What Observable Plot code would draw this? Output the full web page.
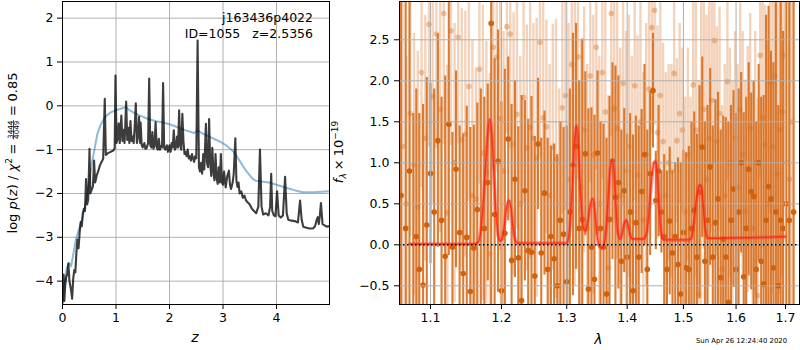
<!DOCTYPE html>
<html><head><meta charset="utf-8">
<script src="https://cdn.jsdelivr.net/npm/d3@7"></script>
<script src="https://cdn.jsdelivr.net/npm/@observablehq/plot@0.6"></script>
<style>
body{margin:0;background:#fff;}
#wrap{position:relative;width:800px;height:350px;overflow:hidden;background:#fff}
#wrap svg{position:absolute;top:0}
</style></head><body><div id="wrap"></div>
<script>
// ---------- DATA ----------
// Left panel: log p(z) (dark) and smoothed curve (blue)
const zGrid = [0.00,0.02,0.035,0.05,0.07,0.09,0.11,0.13,0.16,0.18,0.20,0.22,0.24,0.26,0.28,0.30,0.32,0.34,0.36,0.38,0.40,0.42,0.44,0.46,0.48,0.505,0.52,0.55,0.57,0.59,0.61,0.64,0.67,0.70,0.73,0.76,0.79,0.81,0.85,0.90,0.95,0.975,0.99,1.01,1.03,1.05,1.07,1.10,1.12,1.14,1.16,1.19,1.21,1.23,1.25,1.27,1.29,1.31,1.33,1.35,1.37,1.39,1.41,1.43,1.45,1.46,1.48,1.50,1.53,1.55,1.57,1.60,1.62,1.64,1.66,1.68,1.70,1.72,1.74,1.76,1.78,1.80,1.82,1.84,1.86,1.88,1.90,1.92,1.95,1.97,2.00,2.02,2.04,2.06,2.08,2.10,2.12,2.14,2.16,2.18,2.20,2.22,2.24,2.26,2.28,2.30,2.32,2.34,2.36,2.38,2.40,2.42,2.44,2.46,2.48,2.50,2.525,2.55,2.57,2.59,2.61,2.63,2.65,2.68,2.70,2.72,2.74,2.76,2.78,2.80,2.82,2.84,2.86,2.88,2.90,2.92,2.94,2.96,2.98,3.00,3.02,3.05,3.08,3.11,3.13,3.15,3.18,3.20,3.23,3.25,3.27,3.29,3.31,3.34,3.37,3.40,3.43,3.46,3.50,3.54,3.58,3.62,3.66,3.69,3.72,3.75,3.80,3.85,3.88,3.90,3.92,3.95,3.98,4.01,4.04,4.08,4.12,4.16,4.19,4.22,4.28,4.34,4.40,4.44,4.47,4.50,4.56,4.62,4.68,4.72,4.75,4.77,4.79,4.81,4.83,4.86,4.90,4.95,4.99];
const logPz = [-4.50,-3.85,-4.45,-4.10,-3.90,-3.85,-3.60,-4.00,-4.20,-4.40,-3.95,-3.75,-3.80,-3.35,-3.05,-3.25,-2.90,-2.65,-2.75,-2.45,-2.35,-2.40,-1.67,-2.25,-2.15,-0.98,-2.00,-1.90,-1.82,-1.25,-1.75,-1.59,-1.48,-1.36,-1.28,-1.21,0.16,-1.12,-1.08,-1.05,-1.02,-0.97,0.69,-0.85,-0.75,-0.40,-0.85,-0.22,-0.80,-0.55,-0.85,0.10,-0.78,-0.50,-0.85,-0.35,-0.80,-0.70,-0.85,-0.45,0.06,-0.85,-0.70,-0.25,-0.85,-0.38,-0.90,-0.95,-0.85,-0.98,-0.97,-0.85,0.62,-0.90,-0.95,-0.60,-0.98,-0.90,-0.37,-0.95,-1.00,-0.75,-1.00,-0.92,-0.95,0.52,-0.95,-1.00,-0.90,-1.05,-0.90,-1.05,-0.85,-0.95,-0.56,-1.00,-0.95,-0.70,-0.95,-0.10,-0.90,-1.00,-0.18,-0.80,-1.10,-1.05,-1.15,-1.00,-1.20,-1.15,-1.25,-1.10,-1.20,-1.28,-1.15,-1.20,1.49,-1.40,-1.50,-1.30,-1.55,-1.10,-1.45,-0.41,-1.30,-1.40,-0.30,-1.30,-1.60,-0.96,-1.50,-1.70,-1.10,-1.65,-1.78,-1.40,-1.75,-1.10,-1.75,-1.80,-1.50,-1.86,-1.60,-1.48,-1.80,-1.90,-1.75,-1.55,-0.74,-1.70,-1.85,-1.75,-2.00,-1.95,-2.10,-2.05,-2.16,-2.20,-2.25,-2.35,-2.40,-2.45,-2.30,-1.00,-2.30,-2.48,-2.45,-2.50,-2.30,-1.55,-2.40,-2.50,-2.52,-1.95,-2.50,-2.55,-2.50,-1.62,-2.45,-2.60,-2.62,-2.63,-2.66,-2.16,-2.60,-2.76,-2.78,-2.80,-2.80,-2.75,-2.60,-2.54,-2.70,-2.50,-2.22,-2.70,-2.73,-2.76,-2.74];
const zSmooth = [0.00,0.04,0.08,0.12,0.16,0.20,0.25,0.30,0.37,0.42,0.46,0.50,0.55,0.60,0.65,0.70,0.75,0.80,0.90,1.00,1.10,1.18,1.25,1.35,1.46,1.60,1.75,1.84,2.00,2.15,2.30,2.46,2.53,2.60,2.77,2.95,3.08,3.20,3.33,3.43,3.55,3.61,3.75,3.86,4.00,4.18,4.35,4.49,4.70,4.99];
const logPzSmooth = [-4.45,-4.00,-3.70,-3.58,-3.66,-3.40,-3.05,-2.85,-2.58,-2.30,-2.05,-1.75,-1.30,-0.98,-0.65,-0.47,-0.35,-0.25,-0.15,-0.10,-0.06,-0.03,-0.10,-0.17,-0.23,-0.30,-0.35,-0.37,-0.42,-0.49,-0.56,-0.62,-0.56,-0.62,-0.72,-0.82,-0.92,-1.05,-1.29,-1.48,-1.66,-1.71,-1.73,-1.75,-1.80,-1.87,-1.93,-1.97,-1.97,-1.95];

// Right panel: spectrum (dark = first beam, light = second beam), model
const waveDark = [1.061,1.067,1.072,1.077,1.081,1.085,1.090,1.095,1.100,1.105,1.110,1.115,1.120,1.125,1.130,1.135,1.140,1.145,1.150,1.155,1.160,1.165,1.170,1.175,1.180,1.185,1.190,1.195,1.200,1.205,1.210,1.215,1.220,1.225,1.230,1.235,1.240,1.245,1.250,1.255,1.260,1.265,1.270,1.275,1.280,1.285,1.290,1.295,1.300,1.305,1.310,1.315,1.320,1.325,1.330,1.335,1.340,1.345,1.350,1.355,1.360,1.365,1.370,1.375,1.380,1.385,1.390,1.395,1.400,1.405,1.410,1.415,1.420,1.425,1.430,1.435,1.440,1.445,1.450,1.455,1.460,1.465,1.470,1.475,1.480,1.485,1.490,1.495,1.500,1.505,1.510,1.515,1.520,1.525,1.530,1.535,1.540,1.545,1.550,1.555,1.560,1.565,1.570,1.575,1.580,1.585,1.590,1.595,1.600,1.605,1.610,1.615,1.620,1.625,1.630,1.635,1.640,1.645,1.650,1.655,1.660,1.665,1.670,1.675,1.680,1.685,1.690,1.695,1.701,1.708,1.717];
const fluxDark = [0.6,0.2,0.9,-0.9,0.1,-0.3,-0.49,0.24,0.87,0.4,1.27,0.30,-0.14,1.47,-0.03,0.92,0.15,-0.35,0.09,-0.57,-0.04,0.43,-0.9,0.2,0.76,2.70,0.37,1.02,-0.56,0.14,1.29,-0.19,0.80,-0.16,-0.68,0.66,-0.07,-0.09,-0.38,1.23,-0.1,0.63,-0.30,0.1,-0.17,-0.5,0.30,0.13,-0.45,0.4,0.98,1.20,0.20,0.31,1.11,-0.54,-0.03,-0.42,1.12,0.2,-0.03,-0.6,0.31,1.02,0.58,0.76,-0.2,0.66,-0.15,0.4,-0.56,0.27,-0.15,0.65,1.10,-0.3,0.87,1.88,0.54,0.9,0.4,0.1,-0.3,0.29,-0.1,0.1,-0.24,-0.6,0.15,-0.28,-0.30,0.2,0.42,-0.15,0.64,1.19,-0.2,0.3,0.95,-0.15,0.27,0.56,-0.4,0.07,-0.15,-0.7,0.3,0.68,-0.3,0.4,1.00,-0.39,0.2,0.92,0.65,0.59,-0.3,1.0,-0.2,-0.48,0.3,0.71,0.56,-0.28,0.4,-0.5,0.3,0.2,0.5,0.3,0.4];
const errDark = [5,5,5,2.5,1.8,1.9,2.2,1.8,1.1,1.5,1.3,1.5,2.2,1.6,1.4,1.2,1.3,1.7,1.6,2.0,1.5,1.3,2.8,1.6,1.2,4,1.9,1.6,2.3,2.0,1.0,1.9,1.2,1.6,2.5,1.1,1.6,1.9,1.7,0.8,1.4,1.0,1.6,1.1,1.4,1.6,1.2,1.3,1.9,1.5,1.6,1.5,1.8,2.2,1.0,2.2,1.7,2.0,1.0,1.3,1.5,1.9,1.5,1.2,1.6,1.3,1.6,1.0,1.5,1.2,1.9,1.3,1.6,1.0,1.1,1.7,1.0,0.7,0.6,0.8,0.5,1.0,1.2,0.9,1.0,0.9,1.3,1.6,1.0,1.4,1.5,1.3,1.2,1.5,1.3,1.1,1.7,1.4,1.2,1.6,1.5,1.3,1.8,1.5,1.7,2.2,1.4,1.2,1.9,1.5,1.1,2.0,1.6,1.3,1.2,1.4,1.8,1.2,2.0,2.3,2.5,2.2,1.8,2.5,2.8,2.2,3.0,2.4,5,5,5];
const waveLight = [1.063,1.068,1.073,1.078,1.083,1.088,1.093,1.098,1.103,1.108,1.113,1.118,1.123,1.128,1.133,1.138,1.143,1.148,1.153,1.158,1.163,1.168,1.173,1.178,1.183,1.188,1.193,1.198,1.203,1.208,1.213,1.218,1.223,1.228,1.233,1.238,1.243,1.248,1.253,1.258,1.263,1.268,1.273,1.278,1.283,1.288,1.293,1.298,1.303,1.308,1.313,1.318,1.323,1.328,1.333,1.338,1.343,1.348,1.353,1.358,1.363,1.368,1.373,1.378,1.383,1.388,1.393,1.398,1.403,1.408,1.413,1.418,1.423,1.428,1.433,1.438,1.443,1.448,1.453,1.458,1.463,1.468,1.473,1.478,1.483,1.488,1.493,1.498,1.503,1.508,1.513,1.518,1.523,1.528,1.533,1.538,1.543,1.548,1.553,1.558,1.563,1.568,1.573,1.578,1.583,1.588,1.593,1.598,1.603,1.608,1.613,1.618,1.623,1.628,1.633,1.638,1.643,1.648,1.653,1.658,1.663,1.668,1.673,1.678,1.683,1.688,1.693,1.698,1.703,1.708,1.713];
const fluxLight = [1.2,0.5,1.6,0.98,0.46,2.10,1.3,2.69,1.81,2.57,1.65,2.82,0.39,2.61,1.0,2.53,1.28,1.35,1.93,0.6,0.56,2.14,1.12,0.88,-0.11,2.41,2.29,1.54,0.9,2.66,2.57,1.23,1.59,0.5,1.8,1.18,1.43,1.3,1.06,2.47,1.55,1.44,0.6,1.19,1.05,0.3,1.67,1.82,0.8,2.2,1.3,2.29,0.7,1.4,0.2,2.06,1.1,2.41,0.5,2.10,1.62,-0.28,2.82,1.66,1.42,0.6,1.97,0.9,1.2,0.4,1.94,0.85,1.5,0.3,1.1,1.9,2.65,2.86,1.37,1.82,1.26,0.6,1.0,0.9,2.09,1.27,1.6,1.40,0.4,1.1,0.2,1.95,1.40,-0.6,1.2,1.65,0.8,1.3,1.76,2.49,1.26,1.6,-0.3,0.6,1.99,1.0,0.3,1.3,0.7,1.65,1.1,0.41,0.92,1.42,0.2,1.0,-0.62,2.31,1.55,1.22,0.5,1.98,1.2,2.06,0.86,1.4,1.62,2.31,1.0,0.8,1.5];
const errLight = [2.5,1.8,1.5,1.6,1.9,1.4,1.5,1.5,1.3,1.4,1.5,1.6,1.8,1.4,1.7,1.3,1.6,1.5,1.4,1.9,1.6,1.4,1.8,1.6,2.2,1.5,1.4,1.6,1.7,1.3,1.4,1.6,1.4,1.8,1.3,1.5,1.6,1.4,1.7,1.4,1.5,1.3,1.6,1.5,1.7,1.6,1.3,1.4,1.9,1.4,1.8,1.5,1.8,1.5,2.0,1.3,1.7,1.5,1.8,1.3,1.5,2.1,1.5,1.4,1.6,1.8,1.5,1.7,1.6,1.9,1.4,1.7,1.5,1.8,1.6,1.5,1.3,1.4,1.3,1.4,1.2,1.5,1.2,1.3,1.2,1.0,1.1,1.0,1.4,1.3,1.6,1.6,1.8,2.6,2.0,1.7,2.0,1.8,1.6,1.5,1.4,1.3,2.0,1.6,1.2,1.4,1.7,1.3,1.5,1.3,1.5,1.6,1.5,1.4,1.8,1.6,2.4,1.5,1.6,1.7,2.0,1.6,1.8,1.7,2.2,2.0,2.0,1.8,2.5,2.8,2.6];
const waveModel = [1.072,1.10,1.13,1.16,1.166,1.170,1.173,1.176,1.179,1.1826,1.186,1.189,1.192,1.195,1.198,1.201,1.204,1.207,1.2109,1.214,1.217,1.220,1.224,1.25,1.28,1.300,1.304,1.307,1.310,1.313,1.3157,1.318,1.321,1.324,1.327,1.330,1.334,1.338,1.342,1.345,1.348,1.351,1.354,1.358,1.362,1.365,1.368,1.371,1.3746,1.378,1.381,1.384,1.388,1.392,1.395,1.3987,1.402,1.406,1.41,1.428,1.434,1.438,1.442,1.446,1.450,1.453,1.456,1.459,1.463,1.467,1.51,1.515,1.519,1.523,1.527,1.530,1.533,1.536,1.539,1.542,1.546,1.550,1.60,1.65,1.70];
const fluxModel = [0.01,0.01,0.01,0.01,0.03,0.18,0.45,0.85,1.25,1.53,1.35,0.85,0.38,0.12,0.05,0.07,0.22,0.42,0.54,0.45,0.22,0.07,0.02,0.02,0.02,0.02,0.15,0.45,0.90,1.30,1.45,1.30,0.80,0.40,0.20,0.17,0.28,0.48,0.56,0.45,0.20,0.03,-0.03,-0.04,0.05,0.25,0.60,0.92,1.03,0.85,0.45,0.15,0.07,0.15,0.26,0.30,0.22,0.10,0.07,0.07,0.15,0.40,0.75,0.98,1.02,0.80,0.45,0.18,0.07,0.06,0.06,0.09,0.25,0.50,0.67,0.73,0.72,0.55,0.30,0.14,0.08,0.08,0.085,0.09,0.10];

// Ticks and text
const zTicks = [0,1,2,3,4];
const lnpTicks = [-4,-3,-2,-1,0,1,2];
const lamTicks = [1.1,1.2,1.3,1.4,1.5,1.6,1.7];
const fTicks = [-0.5,0,0.5,1,1.5,2,2.5];
const rootName = "j163436p4022";
const idLine = "ID=1055   z=2.5356";
const chi2Num = "3444", chi2Den = "4049", chi2Val = "0.85";
const stamp = "Sun Apr 26 12:24:40 2020";

// ---------- BUILD ----------
const FONT = "DejaVu Sans";
const wrap = document.getElementById("wrap");
const pz = zGrid.map((z, i) => ({z, v: logPz[i]}));
const pzS = zSmooth.map((z, i) => ({z, v: logPzSmooth[i]}));
const dark = waveDark.map((w, i) => ({w, f: fluxDark[i], e: errDark[i]}));
const light = waveLight.map((w, i) => ({w, f: fluxLight[i], e: errLight[i]}));
const model = waveModel.map((w, i) => ({w, f: fluxModel[i]}));
const GRID = {stroke: "#b0b0b0", strokeOpacity: 1, strokeWidth: 1};
const baseStyle = {background: "transparent", fontFamily: FONT, fontSize: "12.5px", color: "#000", overflow: "visible"};

const left = Plot.plot({
  width: 340, height: 350, marginLeft: 62, marginRight: 11, marginTop: 1, marginBottom: 46,
  style: baseStyle,
  x: {domain: [0, 4.99]},
  y: {domain: [-4.533, 2.38]},
  marks: [
    Plot.gridX(zTicks, GRID),
    Plot.gridY(lnpTicks, GRID),
    Plot.line(pzS, {x: "z", y: "v", stroke: "#1f77b4", strokeOpacity: 0.5, strokeWidth: 2, clip: true}),
    Plot.line(pz, {x: "z", y: "v", stroke: "#000", strokeOpacity: 0.76, strokeWidth: 2.1, clip: true}),
    Plot.frame({stroke: "#000", strokeWidth: 1}),
    Plot.axisX(zTicks, {tickSize: 5, tickPadding: 4, tickFormat: "d", label: null}),
    Plot.axisY(lnpTicks, {tickSize: 5, tickPadding: 4, tickFormat: "d", label: null})
  ]
});
left.style.left = "0px";
wrap.appendChild(left);

const ORANGE = "#d66e1e";
const right = Plot.plot({
  width: 470, height: 350, marginLeft: 69, marginRight: 1, marginTop: 1, marginBottom: 46,
  style: baseStyle,
  x: {type: "log", domain: [1.05897, 1.72942]},
  y: {domain: [-0.728, 2.967]},
  marks: [
    Plot.ruleX(light, {x: "w", y1: d => d.f - d.e, y2: d => d.f + d.e, stroke: ORANGE, strokeOpacity: 0.3, strokeWidth: 2.4, clip: true}),
    Plot.dot(light, {x: "w", y: "f", r: 2.8, fill: ORANGE, fillOpacity: 0.38, clip: true}),
    Plot.ruleX(dark, {x: "w", y1: d => d.f - d.e, y2: d => d.f + d.e, stroke: ORANGE, strokeOpacity: 0.9, strokeWidth: 2.1, clip: true}),
    Plot.dot(dark, {x: "w", y: "f", r: 2.8, fill: "#d0620e", clip: true}),
    Plot.gridX(lamTicks, GRID),
    Plot.gridY(fTicks, GRID),
    Plot.line(model, {x: "w", y: "f", stroke: "#ff4038", strokeOpacity: 0.5, strokeWidth: 3.6, clip: true, curve: "monotone-x"}),
    Plot.line(model, {x: "w", y: "f", stroke: "#ff1e00", strokeOpacity: 0.75, strokeWidth: 1.4, clip: true, curve: "monotone-x"}),
    Plot.ruleY([0], {stroke: "#000", strokeWidth: 1.5, strokeDasharray: "1.5,2.5"}),
    Plot.frame({stroke: "#000", strokeWidth: 1}),
    Plot.axisX(lamTicks, {tickSize: 5, tickPadding: 4, tickFormat: ".1f", label: null}),
    Plot.axisY(fTicks, {tickSize: 5, tickPadding: 5, tickFormat: ".1f", label: null})
  ]
});
right.style.left = "330px";
wrap.appendChild(right);

// ---------- TEXT ----------
function addText(svg, x, y, str, opts = {}) {
  return d3.select(svg).append("text")
    .attr("x", x).attr("y", y).text(str)
    .attr("font-family", FONT).attr("font-size", opts.size || 12.5)
    .attr("font-style", opts.italic ? "italic" : null)
    .attr("text-anchor", opts.anchor || "start").attr("fill", "#000");
}
function richLabel(svg, cx, cy, pieces) {
  const g = d3.select(svg).append("g").attr("font-family", FONT).attr("fill", "#000").attr("text-anchor", "start");
  let cur = 0;
  for (const p of pieces) {
    if (p.gap) { cur += p.gap; continue; }
    if (p.frac) {
      const n = g.append("text").text(p.frac[0]).attr("font-size", p.size).attr("text-anchor", "middle").attr("y", p.ny);
      const d = g.append("text").text(p.frac[1]).attr("font-size", p.size).attr("text-anchor", "middle").attr("y", p.dy);
      const w = Math.max(n.node().getComputedTextLength(), d.node().getComputedTextLength()) + 2;
      n.attr("x", cur + w / 2); d.attr("x", cur + w / 2);
      g.append("line").attr("x1", cur + 0.5).attr("x2", cur + w - 0.5).attr("y1", p.by).attr("y2", p.by)
        .attr("stroke", "#000").attr("stroke-width", 0.7);
      cur += w;
    } else {
      const t = g.append("text").text(p.t).attr("x", cur).attr("y", p.y || 0).attr("text-anchor", "start")
        .attr("font-size", p.size || 13).attr("font-style", p.it ? "italic" : null);
      cur += t.node().getComputedTextLength();
    }
  }
  g.attr("transform", `translate(${cx},${cy}) rotate(-90) translate(${-cur / 2},0)`);
}

// left panel texts
addText(left, 313, 22, rootName, {anchor: "end"});
addText(left, 313, 38, idLine, {anchor: "end"});
addText(left, 195, 342, "z", {italic: true, size: 14, anchor: "middle"});
richLabel(left, 17, 153, [
  {t: "log"}, {gap: 4.2}, {t: "p", it: true}, {t: "("}, {t: "z", it: true}, {t: ")"}, {gap: 4.2},
  {t: "/"}, {gap: 4.2}, {t: "χ", it: true}, {t: "2", size: 9, y: -5.2}, {gap: 3.6}, {t: "="}, {gap: 3.6},
  {frac: [chi2Num, chi2Den], size: 7.2, ny: -4.4, dy: 2.2, by: -3.5}, {gap: 3.6}, {t: "="}, {gap: 3.6}, {t: chi2Val}
]);

// right panel texts
addText(right, 268.5, 344, "λ", {italic: true, size: 14, anchor: "middle"});
addText(right, 366, 343, stamp, {size: 6.9});
richLabel(right, 13, 152, [
  {t: "f", it: true}, {t: "λ", it: true, size: 9, y: 3}, {gap: 3}, {t: "×"}, {gap: 3}, {t: "10"}, {t: "−19", size: 9, y: -5.5}
]);
</script>
</body></html>
